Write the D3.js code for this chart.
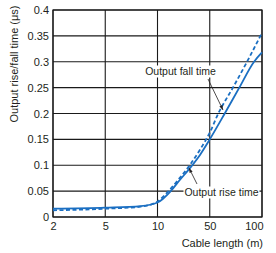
<!DOCTYPE html>
<html>
<head>
<meta charset="utf-8">
<script src="https://cdn.jsdelivr.net/npm/d3@7"></script>
<style>
  body { margin: 0; background: #fff; }
  text { font-family: "Liberation Sans", Arial, sans-serif; fill: #231f20; }
</style>
</head>
<body>
<div id="chart"></div>
<script>
// cable length ticks (axis is not uniform: 2, 5, 10, 50, 100 equally spaced)
const xTicks = [2, 5, 10, 50, 100];
const yTicks = [0, 0.05, 0.1, 0.15, 0.2, 0.25, 0.3, 0.35, 0.4];
const yTickLabels = ["0", "0.05", "0.1", "0.15", "0.2", "0.25", "0.3", "0.35", "0.4"];

// Output rise time (solid)
const riseLength = [2, 5, 8, 10, 15, 20, 27, 37, 50, 61, 74, 90, 100];
const riseTime = [0.016, 0.018, 0.021, 0.028, 0.05, 0.072, 0.094, 0.12, 0.15, 0.2, 0.25, 0.3, 0.318];

// Output fall time (dashed)
const fallLength = [2, 5, 8, 10, 14, 20, 27, 37, 50, 56, 68, 82, 100];
const fallTime = [0.013, 0.016, 0.02, 0.03, 0.05, 0.076, 0.1, 0.13, 0.163, 0.2, 0.25, 0.3, 0.356];

function drawChart() {
    const margin = {top: 10, right: 14, bottom: 36, left: 53},
    width = 276 - margin.left - margin.right,
    height = 253 - margin.top - margin.bottom;

    const svg = d3.select("#chart")
    .append("svg")
    .attr("width", width + margin.left + margin.right)
    .attr("height", height + margin.top + margin.bottom)
    .append("g")
    .attr("transform", "translate(" + margin.left + "," + margin.top + ")");

    // piecewise log scale so each tick gets the same spacing
    const x = d3.scaleLog()
    .domain(xTicks)
    .range(xTicks.map((d, i) => i * width / (xTicks.length - 1)));

    const y = d3.scaleLinear()
    .domain([0, 0.4])
    .range([height, 0]);

    // gridlines
    svg.append("g")
    .attr("class", "grid")
    .selectAll("line.h")
    .data(yTicks)
    .enter()
    .append("line")
    .attr("x1", 0)
    .attr("x2", width)
    .attr("y1", d => y(d))
    .attr("y2", d => y(d))
    .attr("stroke", "#1a1a1a")
    .attr("stroke-width", 1.1);
    svg.append("g")
    .attr("class", "grid")
    .selectAll("line.v")
    .data(xTicks)
    .enter()
    .append("line")
    .attr("x1", d => x(d))
    .attr("x2", d => x(d))
    .attr("y1", 0)
    .attr("y2", height)
    .attr("stroke", "#1a1a1a")
    .attr("stroke-width", 1.1);

    // Y axis labels
    const yAxis = svg.append("g")
    .call(d3.axisLeft(y).tickValues(yTicks).tickSize(0).tickPadding(4)
        .tickFormat((d, i) => yTickLabels[i]));
    yAxis.select(".domain").remove();
    yAxis.selectAll("text")
    .style("font-size", "11px")
    .attr("fill", "#231f20");

    // X axis labels
    const xAxis = svg.append("g")
    .attr("transform", "translate(0," + height + ")")
    .call(d3.axisBottom(x).tickValues(xTicks).tickSize(0).tickPadding(5)
        .tickFormat(d3.format("d")));
    xAxis.select(".domain").remove();
    xAxis.selectAll("text")
    .style("font-size", "11px")
    .attr("fill", "#231f20");
    xAxis.selectAll("text")
    .filter(d => d === 100)
    .attr("text-anchor", "end")
    .attr("dx", 1);

    svg.append("rect")
    .attr("width", width)
    .attr("height", height)
    .attr("fill", "none")
    .attr("stroke", "#1a1a1a")
    .attr("stroke-width", 1.2);

    // axis titles
    svg.append("text")
    .attr("x", width + 1)
    .attr("y", height + 30)
    .attr("text-anchor", "end")
    .style("font-size", "11px")
    .text("Cable length (m)");
    svg.append("text")
    .attr("transform", "translate(" + (-35) + "," + 54 + ")rotate(-90)")
    .attr("text-anchor", "middle")
    .style("font-size", "11px")
    .text("Output rise/fall time (μs)");

    const line = d3.line()
    .x(d => x(d[0]))
    .y(d => y(d[1]))
    .curve(d3.curveMonotoneX);

    svg.append("path")
    .datum(riseLength.map((d, i) => [d, riseTime[i]]))
    .attr("d", line)
    .attr("fill", "none")
    .attr("stroke", "#1b6fc2")
    .attr("stroke-width", 1.8);

    svg.append("path")
    .datum(fallLength.map((d, i) => [d, fallTime[i]]))
    .attr("d", line)
    .attr("fill", "none")
    .attr("stroke", "#1b6fc2")
    .attr("stroke-width", 1.8)
    .attr("stroke-dasharray", "4,2.5");

    // annotations
    const defs = svg.append("defs");
    defs.append("marker")
    .attr("id", "arrow")
    .attr("viewBox", "0 0 10 10")
    .attr("refX", 10)
    .attr("refY", 5)
    .attr("markerWidth", 6)
    .attr("markerHeight", 6)
    .attr("orient", "auto")
    .append("path")
    .attr("d", "M0,1.5L10,5L0,8.5z")
    .attr("fill", "#231f20");

    function label(txt, cx, cy, w) {
        svg.append("rect")
        .attr("x", cx - w / 2 - 1)
        .attr("y", cy - 6)
        .attr("width", w + 2)
        .attr("height", 12)
        .attr("fill", "#fff");
        svg.append("text")
        .attr("x", cx)
        .attr("y", cy)
        .attr("dy", "0.35em")
        .attr("text-anchor", "middle")
        .style("font-size", "10.5px")
        .text(txt);
    }
    label("Output fall time", 180.5 - margin.left, 71.5 - margin.top, 72);
    label("Output rise time", 221.5 - margin.left, 192.5 - margin.top, 74);

    svg.append("line")
    .attr("x1", 208 - margin.left).attr("y1", 79 - margin.top)
    .attr("x2", 223 - margin.left).attr("y2", 110 - margin.top)
    .attr("stroke", "#231f20")
    .attr("stroke-width", 0.8)
    .attr("marker-end", "url(#arrow)");
    svg.append("line")
    .attr("x1", 197 - margin.left).attr("y1", 184 - margin.top)
    .attr("x2", 189 - margin.left).attr("y2", 168 - margin.top)
    .attr("stroke", "#231f20")
    .attr("stroke-width", 0.8)
    .attr("marker-end", "url(#arrow)");
}
drawChart();
</script>
</body>
</html>
